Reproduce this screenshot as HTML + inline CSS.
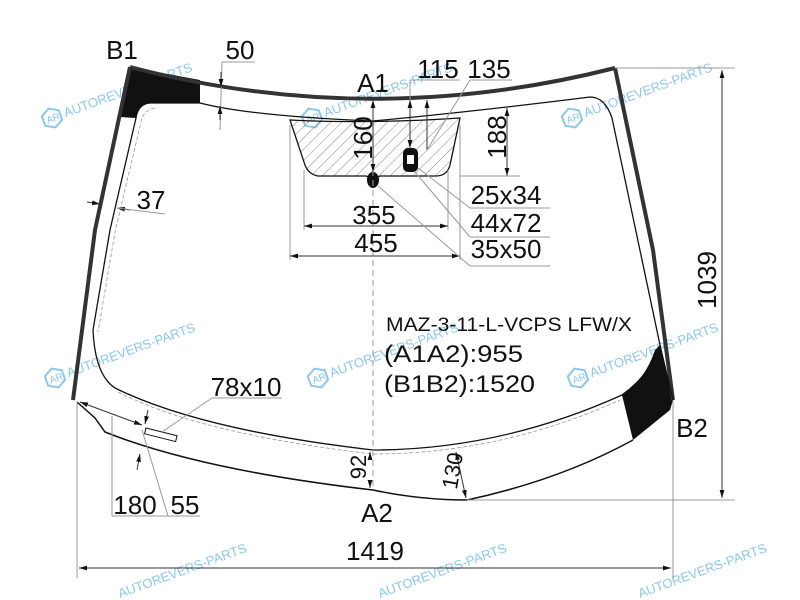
<!DOCTYPE html>
<html><head><meta charset="utf-8"><style>
html,body{margin:0;padding:0;background:#fff;}
svg{display:block}
text{font-family:"Liberation Sans",sans-serif;fill:#111}
.wm{fill:#8cc8ea;font-size:13px}
.d{font-size:26px;text-anchor:middle}
</style></head><body>
<svg width="800" height="600" viewBox="0 0 800 600" xmlns="http://www.w3.org/2000/svg">
<defs>
<pattern id="h" width="8" height="8" patternUnits="userSpaceOnUse" patternTransform="rotate(45)">
<line x1="0" y1="0" x2="0" y2="8" stroke="#666" stroke-width="0.8"/></pattern>
<marker id="a" viewBox="0 0 10 10" refX="10" refY="5" markerWidth="8" markerHeight="8" orient="auto-start-reverse"><path d="M0,2 L10,5 L0,8z" fill="#111"/></marker>
<g id="logo"><path d="M0,-10 L9,-5 L9,5 L0,10 L-9,5 L-9,-5z" fill="none" stroke="#8cc8ea" stroke-width="2"/><text x="-6" y="4" class="wm" style="font-size:10px">AR</text></g>
</defs>

<g transform="translate(52,118) rotate(-20)"><use href="#logo"/><text x="13" y="4" class="wm">AUTOREVERS-PARTS</text></g>
<g transform="translate(312,118) rotate(-20)"><use href="#logo"/><text x="13" y="4" class="wm">AUTOREVERS-PARTS</text></g>
<g transform="translate(572,118) rotate(-20)"><use href="#logo"/><text x="13" y="4" class="wm">AUTOREVERS-PARTS</text></g>
<g transform="translate(55,378) rotate(-20)"><use href="#logo"/><text x="13" y="4" class="wm">AUTOREVERS-PARTS</text></g>
<g transform="translate(318,378) rotate(-20)"><use href="#logo"/><text x="13" y="4" class="wm">AUTOREVERS-PARTS</text></g>
<g transform="translate(578,378) rotate(-20)"><use href="#logo"/><text x="13" y="4" class="wm">AUTOREVERS-PARTS</text></g>
<g transform="translate(120,598) rotate(-20)"><text x="0" y="0" class="wm">AUTOREVERS-PARTS</text></g>
<g transform="translate(380,598) rotate(-20)"><text x="0" y="0" class="wm">AUTOREVERS-PARTS</text></g>
<g transform="translate(640,598) rotate(-20)"><text x="0" y="0" class="wm">AUTOREVERS-PARTS</text></g>

<path d="M130,67 L200,80 L200,103 L150,103 Q138,104 136,118 L120,117 Z" fill="#111"/>
<path d="M660,345 L673,400 L670,410 L633,440 L622,395 Q645,380 655,350 Z" fill="#111"/>

<path d="M130,67 Q370,130 615,68" fill="none" stroke="#333" stroke-width="4"/>
<path d="M130,67 L95,230 L73,400" fill="none" stroke="#333" stroke-width="4"/>
<path d="M615,68 L653,250 L673,400" fill="none" stroke="#333" stroke-width="4"/>
<path d="M77,402 L95,418 L105,432 Q200,470 373,490 Q420,500 467,500 Q560,480 633,440" fill="none" stroke="#111" stroke-width="1.5"/>
<path d="M673,400 L660,345" fill="none" stroke="#111" stroke-width="1.2"/>

<path d="M150,103 Q138,104 136,118 L110,230 L93,330 Q95,375 115,388 Q200,430 373,450 Q500,450 622,395 Q650,375 660,345 L612,118 Q605,97 590,97 Q470,112 373,121 Q250,116 200,103 Z" fill="none" stroke="#111" stroke-width="1.3"/>
<path d="M155,108 Q143,110 141,122 L115,232 L98,332" fill="none" stroke="#999" stroke-width="0.8" stroke-dasharray="4,2"/>
<path d="M118,392 Q200,434 373,454 Q500,454 620,400" fill="none" stroke="#999" stroke-width="0.8" stroke-dasharray="4,2"/>

<path d="M290,120 Q370,124 460,118 L450,165 Q447,176 436,176 L380,176 Q373,180 366,176 L318,176 Q307,174 304,162 Z" fill="url(#h)" stroke="#111" stroke-width="1.3"/>
<ellipse cx="373" cy="180" rx="6" ry="8" fill="#111"/>
<rect x="403" y="148" width="15" height="24" rx="5" fill="#111"/>
<rect x="407" y="155" width="7" height="9" fill="#fff"/>

<line x1="373" y1="120" x2="373" y2="490" stroke="#999" stroke-width="1" stroke-dasharray="6,4"/>

<line x1="373" y1="100" x2="373" y2="172" stroke="#333" marker-end="url(#a)" marker-start="url(#a)"/>
<line x1="410" y1="100" x2="410" y2="148" stroke="#333" marker-end="url(#a)" marker-start="url(#a)"/>
<line x1="427" y1="100" x2="427" y2="150" stroke="#333" marker-start="url(#a)"/>
<line x1="410" y1="80" x2="460" y2="80" stroke="#999"/>
<line x1="410" y1="80" x2="410" y2="100" stroke="#999"/>
<line x1="427" y1="150" x2="470" y2="80" stroke="#999"/>
<line x1="470" y1="80" x2="512" y2="80" stroke="#999"/>
<line x1="507" y1="108" x2="507" y2="176" stroke="#333" marker-end="url(#a)" marker-start="url(#a)"/>
<line x1="460" y1="176" x2="520" y2="176" stroke="#999"/>
<text x="373" y="92" class="d">A1</text>
<text x="438" y="78" class="d">115</text>
<text x="489" y="78" class="d">135</text>
<text transform="translate(372,138) rotate(-90)" class="d">160</text>
<text transform="translate(506,137) rotate(-90)" class="d">188</text>

<line x1="304" y1="170" x2="304" y2="230" stroke="#999"/>
<line x1="448" y1="170" x2="448" y2="230" stroke="#999"/>
<line x1="304" y1="226" x2="448" y2="226" stroke="#333" marker-end="url(#a)" marker-start="url(#a)"/>
<line x1="290" y1="125" x2="290" y2="260" stroke="#999"/>
<line x1="460" y1="125" x2="460" y2="260" stroke="#999"/>
<line x1="290" y1="256" x2="460" y2="256" stroke="#333" marker-end="url(#a)" marker-start="url(#a)"/>
<text x="374" y="224" class="d">355</text>
<text x="376" y="252" class="d">455</text>

<line x1="418" y1="168" x2="470" y2="208" stroke="#999"/>
<line x1="415" y1="172" x2="470" y2="237" stroke="#999"/>
<line x1="378" y1="186" x2="470" y2="266" stroke="#999"/>
<line x1="470" y1="208" x2="550" y2="208" stroke="#999"/>
<line x1="470" y1="237" x2="550" y2="237" stroke="#999"/>
<line x1="470" y1="266" x2="550" y2="266" stroke="#999"/>
<text x="506" y="204" class="d">25x34</text>
<text x="506" y="232" class="d">44x72</text>
<text x="506" y="258" class="d">35x50</text>

<text x="122" y="59" class="d">B1</text>
<text x="240" y="59" class="d">50</text>
<line x1="222" y1="62" x2="255" y2="62" stroke="#999"/>
<line x1="222" y1="62" x2="220" y2="130" stroke="#999"/>
<line x1="221" y1="72" x2="221" y2="87" stroke="#333" marker-end="url(#a)"/>
<line x1="220" y1="120" x2="220" y2="106" stroke="#333" marker-end="url(#a)"/>
<line x1="87" y1="202" x2="100" y2="204" stroke="#333" marker-end="url(#a)"/>
<line x1="130" y1="210" x2="117" y2="208" stroke="#333" marker-end="url(#a)"/>
<line x1="117" y1="208" x2="165" y2="214" stroke="#999"/>
<text x="151" y="209" class="d">37</text>

<text x="386" y="331" font-size="19" textLength="246" lengthAdjust="spacingAndGlyphs">MAZ-3-11-L-VCPS LFW/X</text>
<text x="384" y="362" font-size="24" textLength="139" lengthAdjust="spacingAndGlyphs">(A1A2):955</text>
<text x="384" y="392" font-size="24" textLength="151" lengthAdjust="spacingAndGlyphs">(B1B2):1520</text>

<rect x="146" y="428" width="32" height="6" transform="rotate(14 146 428)" fill="#fff" stroke="#111"/>
<line x1="162" y1="432" x2="212" y2="398" stroke="#999"/>
<line x1="212" y1="398" x2="282" y2="398" stroke="#999"/>
<text x="246" y="396" class="d">78x10</text>
<line x1="80" y1="402" x2="142" y2="425" stroke="#333" marker-start="url(#a)" marker-end="url(#a)"/>
<line x1="112" y1="416" x2="112" y2="516" stroke="#999"/>
<line x1="148" y1="410" x2="145" y2="424" stroke="#333" marker-end="url(#a)"/>
<line x1="137" y1="470" x2="140" y2="454" stroke="#333" marker-end="url(#a)"/>
<line x1="142" y1="430" x2="168" y2="516" stroke="#999"/>
<line x1="112" y1="516" x2="200" y2="516" stroke="#999"/>
<text x="135" y="514" class="d">180</text>
<text x="185" y="514" class="d">55</text>

<line x1="370" y1="460" x2="370" y2="452" stroke="#333" marker-end="url(#a)"/>
<line x1="370" y1="480" x2="370" y2="488" stroke="#333" marker-end="url(#a)"/>
<text transform="translate(366,467) rotate(-90)" class="d" style="font-size:22px">92</text>
<line x1="456" y1="452" x2="466" y2="498" stroke="#333" marker-end="url(#a)" marker-start="url(#a)"/>
<text transform="translate(460,472) rotate(-80)" class="d" style="font-size:22px">130</text>
<text x="377" y="522" class="d">A2</text>
<text x="692" y="437" class="d">B2</text>

<line x1="615" y1="68" x2="735" y2="68" stroke="#999"/>
<line x1="467" y1="500" x2="735" y2="500" stroke="#999"/>
<line x1="722" y1="70" x2="722" y2="498" stroke="#333" marker-start="url(#a)" marker-end="url(#a)"/>
<text transform="translate(716,280) rotate(-90)" class="d">1039</text>
<line x1="77" y1="402" x2="77" y2="578" stroke="#999"/>
<line x1="673" y1="400" x2="673" y2="578" stroke="#999"/>
<line x1="79" y1="568" x2="671" y2="568" stroke="#333" marker-start="url(#a)" marker-end="url(#a)"/>
<text x="375" y="560" class="d">1419</text>
</svg>
</body></html>
